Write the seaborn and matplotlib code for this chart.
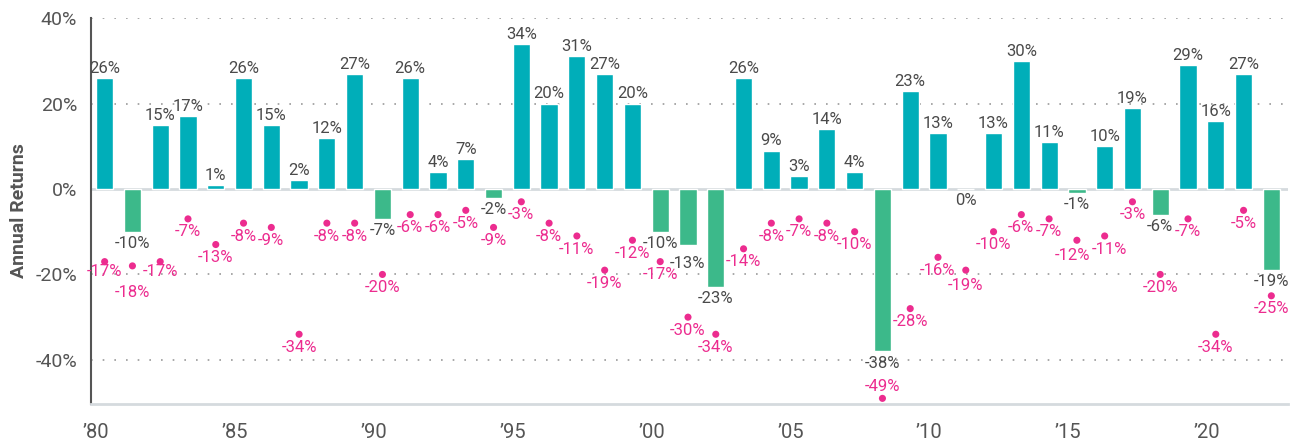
import numpy as np
import pandas as pd
import matplotlib.pyplot as plt
import seaborn as sns
from matplotlib.ticker import FixedLocator

# data
years = list(range(1980, 2023))
annual_returns = [26, -10, 15, 17, 1, 26, 15, 2, 12, 27,
                  -7, 26, 4, 7, -2, 34, 20, 31, 27, 20,
                  -10, -13, -23, 26, 9, 3, 14, 4, -38, 23,
                  13, 0, 13, 30, 11, -1, 10, 19, -6, 29,
                  16, 27, -19]
intra_year_declines = [-17, -18, -17, -7, -13, -8, -9, -34, -8, -8,
                       -20, -6, -6, -5, -9, -3, -8, -11, -19, -12,
                       -17, -30, -34, -14, -8, -7, -8, -10, -49, -28,
                       -16, -19, -10, -6, -7, -12, -11, -3, -20, -7,
                       -34, -5, -25]
tick_years = [1980, 1985, 1990, 1995, 2000, 2005, 2010, 2015, 2020]
tick_labels = ['\u201980', '\u201985', '\u201990', '\u201995', '\u201900',
               '\u201905', '\u201910', '\u201915', '\u201920']

TEAL = '#00aeb9'
GREEN = '#3cb98a'
PINK = '#ec2c8f'
TXT = '#4a4a4a'
LIGHT = '#d5dade'
BAR_W = 0.62

# label shifts (dx, dy in points) for labels that were moved to avoid collisions
ret_nudge = {2001: (0, -5)}
dd_nudge = {1981: (0, -10), 1980: (0, 2), 1982: (0, 2), 2011: (0, -2),
            2015: (-3.5, -1.5), 2016: (3.5, 0)}

df = pd.DataFrame({'year': years, 'ret': annual_returns, 'dd': intra_year_declines})
df['sign'] = np.where(df['ret'] > 0, 'up', 'down')

sns.set_style('white')
plt.rcParams['font.family'] = ['Roboto', 'DejaVu Sans']

fig = plt.figure(figsize=(12.95, 4.40), dpi=100)
ax = fig.add_axes([0.0703, 0.082, 0.9243, 0.877])

sns.barplot(data=df, x='year', y='ret', hue='sign', palette={'up': TEAL, 'down': GREEN},
            native_scale=True, width=BAR_W, dodge=False, legend=False, ax=ax,
            saturation=1, zorder=3)
sns.scatterplot(data=df, x='year', y='dd', color=PINK, s=26, edgecolor='none',
                ax=ax, zorder=4)

LBL = 12
# labels on bars
for yr, v in zip(years, annual_returns):
    dx, dy = ret_nudge.get(yr, (0, 0))
    if v > 0:
        ax.annotate(f'{v}%', (yr, v), xytext=(dx, 1.5 + dy), textcoords='offset points',
                    ha='center', va='bottom', fontsize=LBL, color=TXT)
    else:
        ax.annotate(f'{v}%', (yr, v), xytext=(dx, -3 + dy),
                    textcoords='offset points', ha='center', va='top',
                    fontsize=LBL, color=TXT)

# labels on intra-year declines
for yr, d in zip(years, intra_year_declines):
    dx, dy = dd_nudge.get(yr, (0, 0))
    if d < -45:
        ax.annotate(f'{d}%', (yr, d), xytext=(dx, 3 + dy), textcoords='offset points',
                    ha='center', va='bottom', fontsize=LBL, color=PINK)
    else:
        ax.annotate(f'{d}%', (yr, d), xytext=(dx, -4 + dy),
                    textcoords='offset points', ha='center', va='top',
                    fontsize=LBL, color=PINK)

ax.set_xlim(years[0] - BAR_W / 2 - 0.18, years[-1] + BAR_W / 2 + 0.29)
ax.set_ylim(-50.3, 40)

# x axis
ax.set_xticks([t - BAR_W / 2 for t in tick_years])
ax.set_xticklabels(tick_labels)
ax.tick_params(axis='x', length=7, width=1.5, color=LIGHT, labelsize=14.5,
               labelcolor='#555555', pad=6.5)
ax.set_xlabel('')

# y axis
ax.set_yticks([-40, -20, 0, 20, 40])
ax.set_yticklabels(['-40%', '-20%', '0%', '20%', '40%'])
ax.yaxis.set_minor_locator(FixedLocator([-30, -10, 10, 30]))
ax.tick_params(axis='y', which='both', length=6, width=1.2, color='#555555',
               labelsize=14, labelcolor='#555555', pad=4)
ax.set_ylabel('Annual Returns', fontsize=14, fontweight='bold', color='#555555', labelpad=5)

for g in [-40, -20, 20, 40]:
    ax.axhline(g, color='#9a9a9a', lw=1.2, ls=(0, (1, 6)), zorder=1)
ax.axhline(0, color=LIGHT, lw=2, zorder=2)

for s in ['top', 'right']:
    ax.spines[s].set_visible(False)
ax.spines['left'].set_color('#555555')
ax.spines['left'].set_linewidth(1.5)
ax.spines['bottom'].set_color(LIGHT)
ax.spines['bottom'].set_linewidth(2)

fig.savefig('out.png', dpi=100)
